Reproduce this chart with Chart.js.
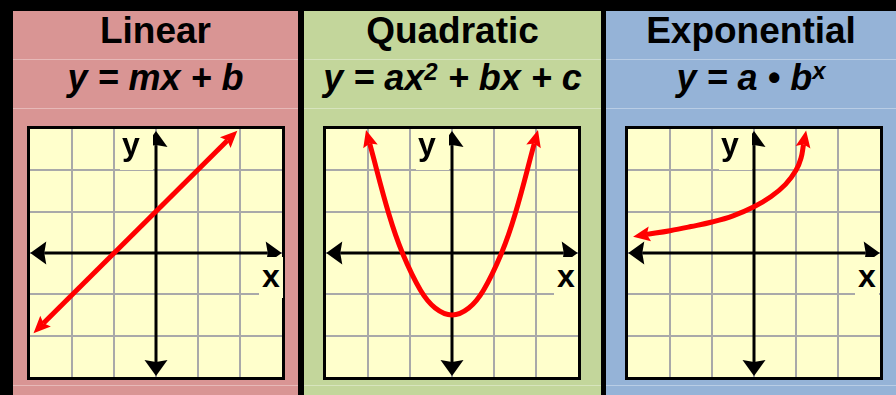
<!DOCTYPE html>
<html lang="en">
<head>
<meta charset="UTF-8">
<title>Linear, Quadratic and Exponential functions</title>
<script src="https://cdn.jsdelivr.net/npm/chart.js"></script>
<style>
    html, body { margin: 0; padding: 0; background: #000; }
    #wrap { position: relative; width: 896px; height: 395px; overflow: hidden; background: #000;
            font-family: "Liberation Sans", Arial, sans-serif; color: #000; }
    .panel { position: absolute; top: 11px; height: 384px; }
    .sep { position: absolute; left: 0; right: 0; height: 1px; }
    .title { position: absolute; left: 0; right: 0; top: 0px; text-align: center; font-weight: bold;
             font-size: 37px; line-height: 40px; white-space: nowrap; }
    .formula { position: absolute; left: 0; right: 0; top: 47px; text-align: center; font-weight: bold;
               font-style: italic; font-size: 36px; line-height: 40px; white-space: nowrap; }
    .sup { font-size: 24px; position: relative; }
    .plot { position: absolute; top: 126px; width: 252px; height: 248px; border: 3px solid #000; background: #ffffcc; }
    .plot canvas { display: block; }
    .lbl { position: absolute; font-weight: bold; font-size: 32px; line-height: 30px; background: #ffffcc; }
    .lbl.y { top: 129px; height: 41px; width: 33px; padding-left: 2px; box-sizing: border-box; }
    .lbl.x { top: 257px; height: 41px; width: 24px; padding-top: 4px; padding-left: 3px; box-sizing: border-box; }
</style>
</head>
<body>
<div id="wrap">
    <div class="panel" style="left:13px; width:285px; background:#d99594;">
        <div class="sep" style="top:48px; background:#e7b9b8;"></div>
        <div class="sep" style="top:97px; background:#e7b9b8;"></div>
        <div class="sep" style="top:374px; background:#e7b9b8;"></div>
        <div class="title">Linear</div>
        <div class="formula">y = mx + b</div>
    </div>
    <div class="panel" style="left:304px; width:297px; background:#c3d69b;">
        <div class="sep" style="top:48px; background:#d7e4bd;"></div>
        <div class="sep" style="top:97px; background:#d7e4bd;"></div>
        <div class="sep" style="top:374px; background:#d7e4bd;"></div>
        <div class="title">Quadratic</div>
        <div class="formula">y = ax<span class="sup" style="top:-10px;">2</span> + bx + c</div>
    </div>
    <div class="panel" style="left:606px; width:290px; background:#95b3d7;">
        <div class="sep" style="top:48px; background:#b9cde5;"></div>
        <div class="sep" style="top:97px; background:#b9cde5;"></div>
        <div class="sep" style="top:374px; background:#b9cde5;"></div>
        <div class="title">Exponential</div>
        <div class="formula">y = a • b<span class="sup" style="top:-11px;">x</span></div>
    </div>

    <div class="plot" style="left:27px;"><canvas id="linearChart" width="252" height="248"></canvas></div>
    <div class="plot" style="left:323px;"><canvas id="quadChart" width="252" height="248"></canvas></div>
    <div class="plot" style="left:625px;"><canvas id="expChart" width="252" height="248"></canvas></div>

    <div class="lbl y" style="left:120px;">y</div>
    <div class="lbl x" style="left:259px;">x</div>
    <div class="lbl y" style="left:416px;">y</div>
    <div class="lbl x" style="left:554px;">x</div>
    <div class="lbl y" style="left:719px;">y</div>
    <div class="lbl x" style="left:855px;">x</div>
</div>

<script>
    // grid runs from -3 to 3 on both axes, one line per unit
    const gridMin = -3;
    const gridMax = 3;

    // axis lines (ends are where the arrowheads start)
    const xAxisX = [-2.66, 2.66];
    const xAxisY = [0, 0];
    const yAxisX = [0, 0];
    const yAxisY = [-2.64, 2.61];

    // red curves
    const linearX = [-2.68, 1.7];
    const linearY = [-1.7, 2.72];

    const quadX = [-1.96, -1.5, -1.18, -0.75, -0.4, 0, 0.4, 0.75, 1.18, 1.5, 1.96];
    const quadY = [2.65, 0.93, 0, -0.9, -1.33, -1.5, -1.33, -0.9, 0, 0.93, 2.65];

    const expX = [-2.55, -2, -1.5, -1, -0.5, 0, 0.4, 0.75, 1.0, 1.12, 1.18];
    const expY = [0.45, 0.54, 0.64, 0.75, 0.9, 1.12, 1.36, 1.66, 2.0, 2.3, 2.63];

    const toPoints = (xs, ys) => xs.map((x, i) => ({ x: x, y: ys[i] }));

    // draws an arrowhead at both ends of any dataset that has an "arrow" setting
    const arrowHeads = {
        id: 'arrowHeads',
        afterDatasetsDraw(chart) {
            const ctx = chart.ctx;
            // last datasets (axes) first so the red arrows sit on top
            for (let i = chart.data.datasets.length - 1; i >= 0; i--) {
                const ds = chart.data.datasets[i];
                if (!ds.arrow) continue;
                const pts = chart.getDatasetMeta(i).data;
                const n = pts.length;
                const first = pts[0], last = pts[n - 1];
                let d1 = outward(first, first.cp2x, first.cp2y, pts[1]);
                let d2 = outward(last, last.cp1x, last.cp1y, pts[n - 2]);
                drawHead(ctx, first, d1, ds.arrow, ds.borderColor);
                drawHead(ctx, last, d2, ds.arrow, ds.borderColor);
            }
        }
    };

    function outward(p, cx, cy, nb) {
        let dx, dy;
        if (cx !== undefined && (Math.abs(p.x - cx) + Math.abs(p.y - cy)) > 0.5) {
            dx = p.x - cx; dy = p.y - cy;
        } else {
            dx = p.x - nb.x; dy = p.y - nb.y;
        }
        const len = Math.hypot(dx, dy) || 1;
        return { x: dx / len, y: dy / len };
    }

    function drawHead(ctx, p, u, a, color) {
        const px = -u.y, py = u.x;
        ctx.save();
        ctx.fillStyle = color;
        ctx.beginPath();
        ctx.moveTo(p.x + u.x * a.len, p.y + u.y * a.len);
        ctx.lineTo(p.x - u.x * a.notch + px * a.half, p.y - u.y * a.notch + py * a.half);
        ctx.lineTo(p.x, p.y);
        ctx.lineTo(p.x - u.x * a.notch - px * a.half, p.y - u.y * a.notch - py * a.half);
        ctx.closePath();
        ctx.fill();
        ctx.restore();
    }

    const axisArrow = { len: 14, notch: 2, half: 11.5 };
    const curveArrow = { len: 14, notch: 3, half: 7.5 };

    function gridScale() {
        return {
            type: 'linear',
            min: gridMin,
            max: gridMax,
            ticks: { display: false, stepSize: 1 },
            grid: {
                color: c => (c.tick.value === gridMin || c.tick.value === gridMax) ? 'rgba(0,0,0,0)' : '#a9a9a9',
                lineWidth: 2,
                drawTicks: false
            },
            border: { display: false }
        };
    }

    function makePlot(id, curveX, curveY, tension) {
        new Chart(document.getElementById(id), {
            type: 'scatter',
            data: {
                datasets: [
                    { data: toPoints(curveX, curveY), showLine: true, borderColor: '#ff0000', borderWidth: 5,
                      pointRadius: 0, tension: tension, arrow: curveArrow, clip: false },
                    { data: toPoints(xAxisX, xAxisY), showLine: true, borderColor: '#000000', borderWidth: 3,
                      pointRadius: 0, arrow: axisArrow, clip: false },
                    { data: toPoints(yAxisX, yAxisY), showLine: true, borderColor: '#000000', borderWidth: 3,
                      pointRadius: 0, arrow: axisArrow, clip: false }
                ]
            },
            options: {
                responsive: false,
                animation: false,
                events: [],
                layout: { padding: 0, autoPadding: false },
                plugins: { legend: { display: false }, tooltip: { enabled: false } },
                scales: { x: gridScale(), y: gridScale() }
            },
            plugins: [arrowHeads]
        });
    }

    makePlot('linearChart', linearX, linearY, 0);
    makePlot('quadChart', quadX, quadY, 0.4);
    makePlot('expChart', expX, expY, 0.4);
</script>
</body>
</html>
